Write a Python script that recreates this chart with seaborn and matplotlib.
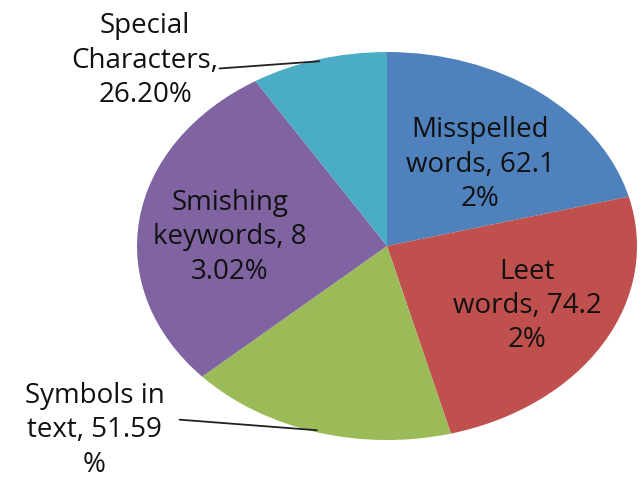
import numpy as np
import seaborn as sns
import matplotlib.pyplot as plt

# Data
categories = ["Misspelled words", "Leet words", "Symbols in text",
              "Smishing keywords", "Special Characters"]
values = [62.12, 74.22, 51.59, 83.02, 26.20]
# label text as wrapped in the original chart
label_text = ["Misspelled\nwords, 62.1\n2%",
              "Leet\nwords, 74.2\n2%",
              "Symbols in\ntext, 51.59\n%",
              "Smishing\nkeywords, 8\n3.02%",
              "Special\nCharacters,\n26.20%"]
colors = ["#4F81BD", "#C0504D", "#9BBB59", "#8064A2", "#4BACC6"]

sns.set_theme(style="white")
plt.rcParams['font.family'] = ['Open Sans', 'DejaVu Sans']

fig = plt.figure(figsize=(6.42, 4.8), dpi=100)
ax = fig.add_axes([0, 0, 1, 1])

wedges, _ = ax.pie(values, colors=sns.color_palette(colors), startangle=90,
                   counterclock=False, radius=1,
                   wedgeprops=dict(linewidth=0))
ax.set_aspect('auto')
ax.set_xlim(-1.548, 1.02)
ax.set_ylim(-1.206, 1.268)
ax.axis('off')

txt = dict(ha='center', va='center', fontsize=20, color='#111111',
           linespacing=1.3)

# inside labels (text positions in data coords)
inside_pos = {0: (0.372, 0.42), 1: (0.56, -0.31), 3: (-0.628, 0.045)}
for i, (x, y) in inside_pos.items():
    ax.text(x, y, label_text[i], **txt)

# outside labels with leader lines
outside = {4: ((-0.968, 0.955), (-0.67, 0.915)),
           2: ((-1.17, -0.95), (-0.83, -0.895))}
for i, (tpos, lstart) in outside.items():
    w = wedges[i]
    mid = np.deg2rad((w.theta1 + w.theta2) / 2)
    tip = (np.cos(mid) * 0.99, np.sin(mid) * 0.99)
    ax.plot([lstart[0], tip[0]], [lstart[1], tip[1]], color='#222222', lw=1.3)
    ax.text(tpos[0], tpos[1], label_text[i], **txt)

fig.savefig("out.png", dpi=100)
